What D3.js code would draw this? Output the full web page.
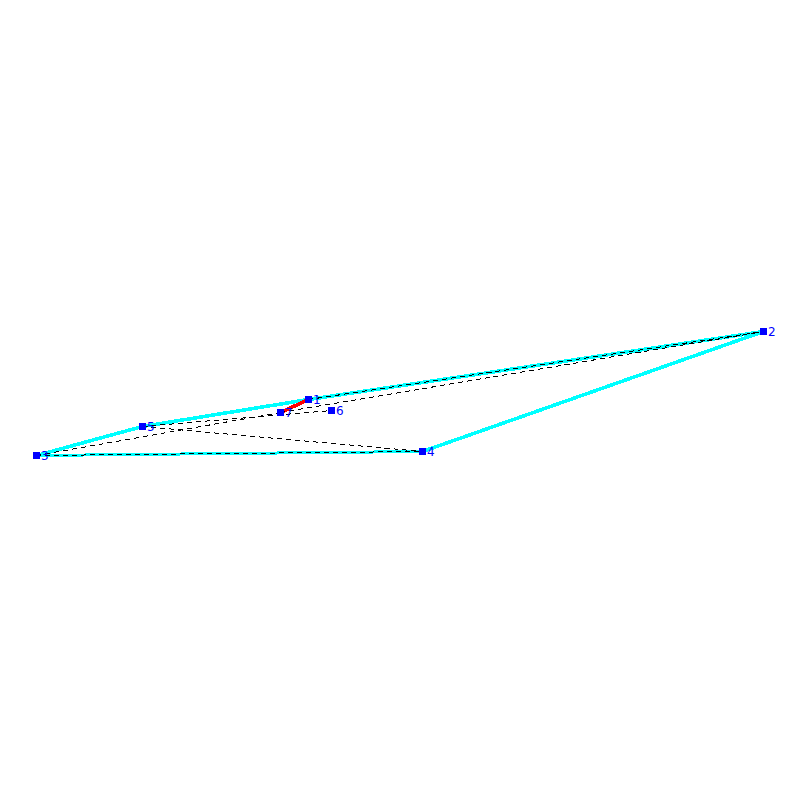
<!DOCTYPE html>
<html>
<head>
<meta charset="utf-8">
<script src="https://cdn.jsdelivr.net/npm/d3@7"></script>
<style>
  html, body { margin: 0; background: #fff; }
  svg { display: block; }
</style>
</head>
<body>
<script>
// Nodes of the network, in page units
const nodeIds = [1, 2, 3, 4, 5, 6, 7];
const nodeX = [308.5, 763.5, 36.5, 422.5, 142.5, 331.5, 280.5];
const nodeY = [399.5, 331.5, 455.5, 451.5, 426.5, 410.5, 412.5];

// Links, as pairs of node ids
const cyanLinks = [[1, 2], [2, 4], [3, 5], [5, 1]];
const flatCyanLinks = [[4, 3]];
const redLinks = [[1, 7]];
const dashedLinks = [[3, 4], [3, 7], [7, 2], [5, 6], [5, 4], [1, 2]];

const size = 800;

const x = d3.scaleLinear().domain([0, 800]).range([0, size]);
const y = d3.scaleLinear().domain([0, 800]).range([0, size]);

const nodes = nodeIds.map((id, i) => ({ id, x: nodeX[i], y: nodeY[i] }));
const byId = new Map(nodes.map(d => [d.id, d]));

const svg = d3.select("body").append("svg")
    .attr("width", size)
    .attr("height", size);

function drawLinks(links, color, width, dash) {
    svg.append("g")
        .attr("stroke", color)
        .attr("stroke-width", width)
        .attr("stroke-dasharray", dash)
        .attr("shape-rendering", "crispEdges")
        .selectAll("line")
        .data(links)
        .join("line")
        .attr("x1", d => x(byId.get(d[0]).x))
        .attr("y1", d => y(byId.get(d[0]).y))
        .attr("x2", d => x(byId.get(d[1]).x))
        .attr("y2", d => y(byId.get(d[1]).y));
}

// Sloped links read a little thicker than the flat one
drawLinks(cyanLinks, "#00ffff", 3.6, null);
drawLinks(flatCyanLinks, "#00ffff", 3, null);
drawLinks(redLinks, "#ff0000", 3.6, null);
drawLinks(dashedLinks, "#000000", 1, "5,4");

// Square markers
svg.append("g")
    .attr("fill", "#0000ff")
    .attr("shape-rendering", "crispEdges")
    .selectAll("rect")
    .data(nodes)
    .join("rect")
    .attr("x", d => x(d.x) - 3.5)
    .attr("y", d => y(d.y) - 3.5)
    .attr("width", 7)
    .attr("height", 7);

// Node labels
svg.append("g")
    .attr("fill", "#0000ff")
    .style("font", "12px 'DejaVu Sans'")
    .selectAll("text")
    .data(nodes)
    .join("text")
    .attr("x", d => x(d.x) + 4.5)
    .attr("y", d => y(d.y) + 4)
    .text(d => d.id);
</script>
</body>
</html>
